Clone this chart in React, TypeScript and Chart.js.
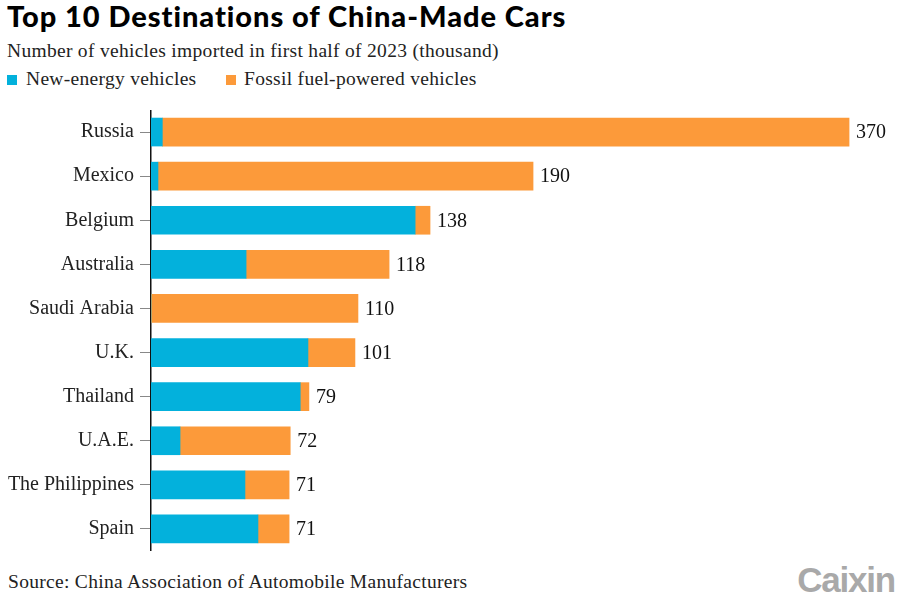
import React, { useEffect, useRef } from "react";
import { Chart, registerables } from "chart.js";
Chart.register(...registerables);

const countries = ["Russia", "Mexico", "Belgium", "Australia", "Saudi Arabia", "U.K.", "Thailand", "U.A.E.", "The Philippines", "Spain"];
const newEnergy = [6.0, 3.7, 140.0, 50.4, 0, 83.2, 79.1, 15.4, 49.8, 56.7];
const fossilFuel = [364.0, 198.8, 7.9, 75.8, 109.7, 24.9, 4.6, 58.4, 23.4, 16.5];
const totalLabels = ["370", "190", "138", "118", "110", "101", "79", "72", "71", "71"];

const NEV_COLOR = "#03b1dc";
const FOSSIL_COLOR = "#fc9a3a";
const SERIF = "'Liberation Serif', serif";

const totalsPlugin = {
  id: "totals",
  afterDatasetsDraw(chart: any) {
    const ctx = chart.ctx;
    const meta = chart.getDatasetMeta(1);
    ctx.save();
    ctx.font = "20px 'Liberation Serif'";
    ctx.fillStyle = "#111";
    ctx.textBaseline = "middle";
    ctx.textAlign = "left";
    meta.data.forEach((bar: any, i: number) => {
      ctx.fillText(totalLabels[i], bar.x + 7, bar.y + 1);
    });
    ctx.restore();
  },
};

export default function App() {
  const ref = useRef<HTMLCanvasElement>(null);
  useEffect(() => {
    if (!ref.current) return;
    const chart = new Chart(ref.current, {
      type: "bar",
      data: {
        labels: countries,
        datasets: [
          { label: "New-energy vehicles", data: newEnergy, backgroundColor: NEV_COLOR, borderWidth: 0, barThickness: 28 },
          { label: "Fossil fuel-powered vehicles", data: fossilFuel, backgroundColor: FOSSIL_COLOR, borderWidth: 0, barThickness: 28 },
        ],
      },
      options: {
        indexAxis: "y",
        animation: false,
        responsive: true,
        maintainAspectRatio: false,
        layout: { padding: 0 },
        plugins: { legend: { display: false }, tooltip: { enabled: false }, title: { display: false } },
        scales: {
          x: { stacked: true, display: false, min: 0, max: 397 },
          y: {
            stacked: true,
            afterFit: (s: any) => { s.width = 151; s.paddingTop = 0; s.paddingBottom = 0; },
            grid: { display: true, offset: false, drawOnChartArea: false, drawTicks: true, tickLength: 11, color: "#888", lineWidth: 1 },
            border: { display: true, color: "#111", width: 1.5 },
            ticks: { padding: 6, color: "#222", font: { family: "Liberation Serif", size: 20 } },
          },
        },
      },
      plugins: [totalsPlugin],
    });
    return () => chart.destroy();
  }, []);

  const textStyle: React.CSSProperties = { position: "absolute", fontFamily: SERIF, fontSize: 19.5, letterSpacing: 0.3, color: "#222", whiteSpace: "nowrap", lineHeight: "22px" };

  return (
    <div style={{ position: "fixed", left: 0, top: 0, width: 900, height: 600, background: "#fff", overflow: "hidden" }}>
      <div style={{ position: "absolute", left: 7, top: -2, fontFamily: "Lato, sans-serif", fontWeight: 900, fontSize: 29, letterSpacing: 0.95, color: "#000", whiteSpace: "nowrap", lineHeight: "36px" }}>
        Top 10 Destinations of China-Made Cars
      </div>
      <div style={{ ...textStyle, left: 7, top: 39.5 }}>
        Number of vehicles imported in first half of 2023 (thousand)
      </div>
      <div style={{ position: "absolute", left: 7, top: 75, width: 10, height: 10, background: NEV_COLOR }} />
      <div style={{ ...textStyle, left: 26, top: 67.5 }}>New-energy vehicles</div>
      <div style={{ position: "absolute", left: 226, top: 75, width: 10, height: 10, background: FOSSIL_COLOR }} />
      <div style={{ ...textStyle, left: 244, top: 67.5 }}>Fossil fuel-powered vehicles</div>
      <div style={{ position: "absolute", left: 0, top: 110, width: 900, height: 441 }}>
        <canvas ref={ref} />
      </div>
      <div style={{ ...textStyle, left: 8, top: 571 }}>
        Source: China Association of Automobile Manufacturers
      </div>
      <div style={{ position: "absolute", right: 5, top: 560, fontFamily: "'Liberation Sans', Arial, sans-serif", fontWeight: 700, fontSize: 35, color: "#a9a9a9", whiteSpace: "nowrap", lineHeight: "40px", letterSpacing: -1.2 }}>
        Caixin
      </div>
    </div>
  );
}
